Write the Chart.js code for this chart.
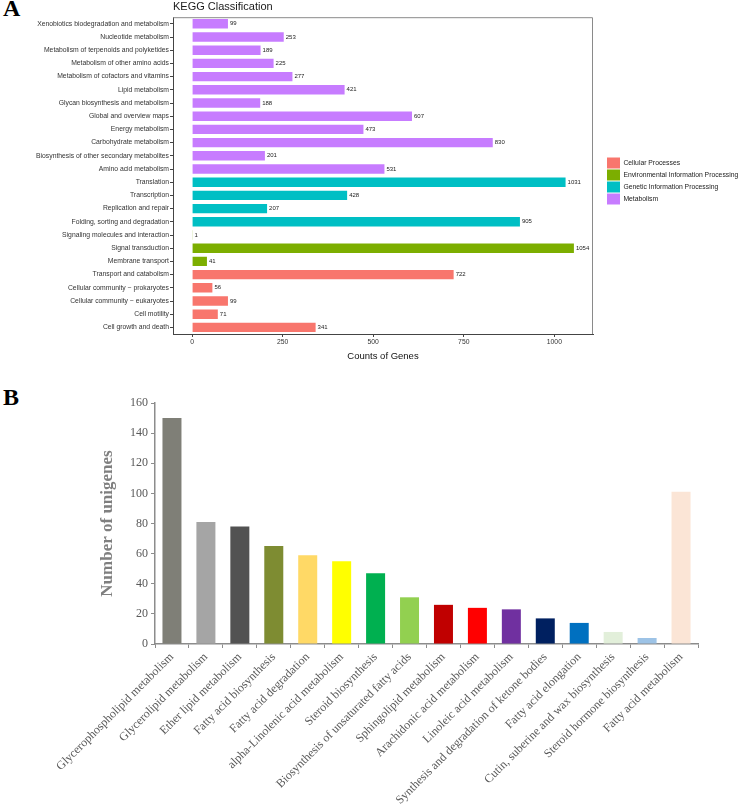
<!DOCTYPE html>
<html>
<head>
<meta charset="utf-8">
<script src="https://cdn.jsdelivr.net/npm/chart.js@4.4.0/dist/chart.umd.min.js"></script>
<style>
body { margin: 0; background: #fff; }
#page { position: relative; width: 740px; height: 807px; overflow: hidden; }
.tag { position: absolute; left: 3px; font: bold 24px "Liberation Serif", serif; line-height: 24px; color: #000; }
#boxA { position: absolute; left: 0; top: 0; width: 740px; height: 362px; }
#boxB { position: absolute; left: 0; top: 380px; width: 740px; height: 427px; }
</style>
</head>
<body>
<div id="page">
  <div class="tag" style="top:-4px">A</div>
  <div class="tag" style="top:385px">B</div>
  <div id="boxA"><canvas id="keggChart"></canvas></div>
  <div id="boxB"><canvas id="lipidChart"></canvas></div>
</div>
<script>
// panel A - KEGG classification
const keggPathways = [
    "Xenobiotics biodegradation and metabolism", "Nucleotide metabolism",
    "Metabolism of terpenoids and polyketides", "Metabolism of other amino acids",
    "Metabolism of cofactors and vitamins", "Lipid metabolism",
    "Glycan biosynthesis and metabolism", "Global and overview maps",
    "Energy metabolism", "Carbohydrate metabolism",
    "Biosynthesis of other secondary metabolites", "Amino acid metabolism",
    "Translation", "Transcription", "Replication and repair",
    "Folding, sorting and degradation", "Signaling molecules and interaction",
    "Signal transduction", "Membrane transport", "Transport and catabolism",
    "Cellular community \u2212 prokaryotes", "Cellular community \u2212 eukaryotes",
    "Cell motility", "Cell growth and death"
];
const keggGroupOf = [
    3, 3, 3, 3, 3, 3, 3, 3, 3, 3, 3, 3,
    2, 2, 2, 2,
    1, 1, 1,
    0, 0, 0, 0, 0
];
const geneCounts = [99, 253, 189, 225, 277, 421, 188, 607, 473, 830, 201, 531,
    1031, 428, 207, 905, 1, 1054, 41, 722, 56, 99, 71, 341];
const keggGroups = ["Cellular Processes", "Environmental Information Processing",
    "Genetic Information Processing", "Metabolism"];
const countTicks = [0, 250, 500, 750, 1000];

// panel B - lipid metabolism pathways
const lipidPathways = [
    "Glycerophospholipid metabolism", "Glycerolipid metabolism", "Ether lipid metabolism",
    "Fatty acid biosynthesis", "Fatty acid degradation", "alpha-Linolenic acid metabolism",
    "Steroid biosynthesis", "Biosynthesis of unsaturated fatty acids",
    "Sphingolipid metabolism", "Arachidonic acid metabolism", "Linoleic acid metabolism",
    "Synthesis and degradation of ketone bodies", "Fatty acid elongation",
    "Cutin, suberine and wax biosynthesis", "Steroid hormone biosynthesis",
    "Fatty acid metabolism"
];
const unigeneCounts = [150, 81, 78, 65, 59, 55, 47, 31, 26, 24, 23, 17, 14, 8, 4, 101];

const groupColors = ["#F8766D", "#7CAE00", "#00BFC4", "#C77CFF"];
const lipidColors = ["#7F7F77", "#A5A5A5", "#525252", "#7E8C32", "#FFD966", "#FFFF00",
    "#00B050", "#92D050", "#C00000", "#FF0000", "#7030A0", "#002060", "#0070C0",
    "#E2EFDA", "#9DC3E6", "#FBE5D6"];

Chart.defaults.font.family = "Liberation Sans";

const keggSets = keggGroups.map((g, gi) => ({
    label: g,
    data: geneCounts.map((v, i) => keggGroupOf[i] === gi ? v : null),
    backgroundColor: groupColors[gi],
    borderWidth: 0,
    categoryPercentage: 1,
    barPercentage: 0.71
}));

// top and right edge of the panel box
const panelBorder = {
    id: "panelBorder",
    afterDraw(chart) {
        const ctx = chart.ctx;
        const a = chart.chartArea;
        ctx.save();
        ctx.strokeStyle = "#8a8a8a";
        ctx.lineWidth = 1;
        ctx.beginPath();
        ctx.moveTo(a.left, a.top + 0.5);
        ctx.lineTo(a.right - 0.5, a.top + 0.5);
        ctx.lineTo(a.right - 0.5, a.bottom);
        ctx.stroke();
        ctx.restore();
    }
};

// numbers at the end of the bars
const countLabels = {
    id: "countLabels",
    afterDatasetsDraw(chart) {
        const ctx = chart.ctx;
        ctx.save();
        ctx.font = '6px "Liberation Sans"';
        ctx.fillStyle = "#222";
        ctx.textBaseline = "middle";
        chart.data.datasets.forEach((ds, i) => {
            chart.getDatasetMeta(i).data.forEach((bar, j) => {
                if (ds.data[j] == null) return;
                ctx.fillText(ds.data[j], bar.x + 2, bar.y);
            });
        });
        ctx.restore();
    }
};

new Chart(document.getElementById("keggChart"), {
    type: "bar",
    data: { labels: keggPathways, datasets: keggSets },
    plugins: [panelBorder, countLabels],
    options: {
        indexAxis: "y",
        responsive: true,
        maintainAspectRatio: false,
        animation: false,
        layout: { padding: { left: 0, right: -2, top: 0, bottom: 0 } },
        plugins: {
            title: {
                display: true, text: "KEGG Classification", align: "start", fullSize: false,
                color: "#1a1a1a", font: { size: 11, weight: "normal" }, padding: { top: 0, bottom: 4 }
            },
            legend: {
                position: "right",
                align: "center",
                maxWidth: 136,
                labels: { boxWidth: 13, boxHeight: 11, padding: 1, color: "#222", font: { size: 6.8 } }
            },
            tooltip: { enabled: false }
        },
        scales: {
            x: {
                stacked: true,
                min: -52.7,
                max: 1106.7,
                afterBuildTicks: (s) => { s.ticks = countTicks.map(v => ({ value: v })); },
                afterFit: (s) => { s.height = 28; },
                grid: { drawOnChartArea: false, tickLength: 3, color: "#444" },
                border: { color: "#444" },
                ticks: { color: "#333", font: { size: 6.8 }, padding: 1, callback: (v) => String(v) },
                title: { display: true, text: "Counts of Genes", color: "#111", font: { size: 9.5 }, padding: { top: 0, bottom: 0 } }
            },
            y: {
                stacked: true,
                afterFit: (s) => { s.width = 173; },
                grid: { drawOnChartArea: false, offset: false, tickLength: 3, color: "#444" },
                border: { color: "#444" },
                ticks: { color: "#333", font: { size: 6.8 }, padding: 1, autoSkip: false }
            },
            gap: {
                type: "linear",
                position: "right",
                display: false,
                afterFit: (s) => { s.width = 13; }
            }
        }
    }
});

new Chart(document.getElementById("lipidChart"), {
    type: "bar",
    data: {
        labels: lipidPathways,
        datasets: [{
            data: unigeneCounts,
            backgroundColor: lipidColors,
            borderWidth: 0,
            categoryPercentage: 1,
            barPercentage: 0.56
        }]
    },
    options: {
        responsive: true,
        maintainAspectRatio: false,
        animation: false,
        layout: { padding: { left: 95, right: 42, top: 23, bottom: 0 } },
        plugins: { legend: { display: false }, tooltip: { enabled: false } },
        scales: {
            x: {
                afterFit: (s) => { s.height = 163; },
                grid: { drawOnChartArea: false, tickLength: 4, color: "#8c8c8c" },
                border: { color: "#8c8c8c", width: 1.5 },
                ticks: {
                    color: "#595959", font: { family: "Liberation Serif", size: 12 },
                    minRotation: 45, maxRotation: 45, autoSkip: false, padding: 2
                }
            },
            y: {
                min: 0,
                max: 160,
                afterFit: (s) => { s.width = 60; },
                grid: { drawOnChartArea: false, tickLength: 4, color: "#8c8c8c" },
                border: { color: "#8c8c8c", width: 1.5 },
                ticks: { stepSize: 20, color: "#595959", font: { family: "Liberation Serif", size: 12 }, padding: 3 },
                title: {
                    display: true, text: "Number of unigenes", color: "#7f7f7f",
                    font: { family: "Liberation Serif", size: 17, weight: "bold" }, padding: { top: 2, bottom: 0 }
                }
            }
        }
    }
});
</script>
</body>
</html>
